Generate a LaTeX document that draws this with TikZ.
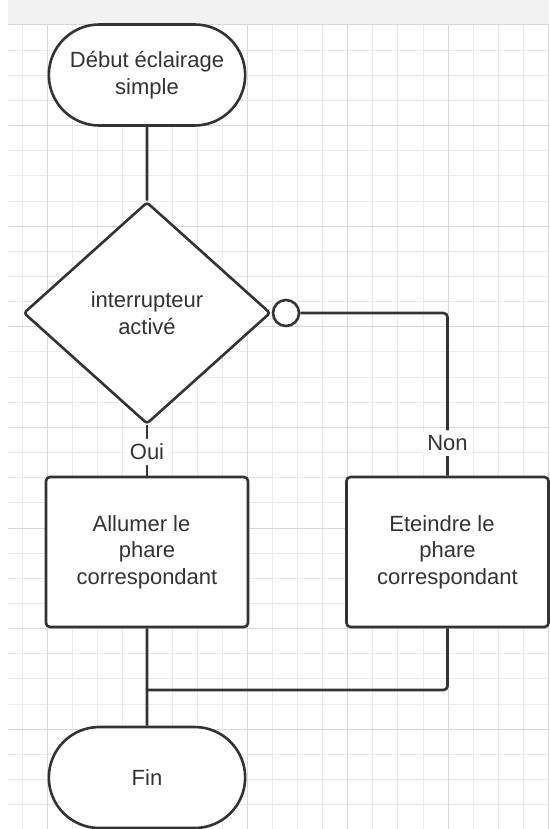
\documentclass[tikz,border=0pt]{standalone}
\usepackage{fontspec}
\setmainfont{Liberation Sans}
\usepackage{tikz}
\usetikzlibrary{shapes.geometric,shapes.misc}
\usepackage{xcolor}
\definecolor{ink}{HTML}{333333}
\definecolor{gridminor}{HTML}{EBEBEB}
\definecolor{gridmajor}{HTML}{D8D8D8}
\definecolor{topbar}{HTML}{F2F2F2}

\begin{document}
\begin{tikzpicture}[
    x=1pt, y=-1pt,
    every node/.style={font=\fontsize{22}{26.5}\selectfont, text=ink},
    terminus/.style={draw=ink, line width=2.6pt, rounded rectangle, fill=white, minimum width=203pt, minimum height=101pt, align=center},
    decision/.style={draw=ink, line width=2.6pt, diamond, fill=white, inner sep=0pt, minimum width=247pt, minimum height=222pt, rounded corners=3pt, align=center},
    action/.style={draw=ink, line width=2.6pt, rectangle, fill=white, rounded corners=4pt, minimum width=202pt, minimum height=150pt, align=center},
    inverse/.style={draw=ink, line width=2.6pt, circle, fill=white, inner sep=0pt, minimum size=26pt},
    lbl/.style={fill=white, inner sep=5pt},
    flow/.style={draw=ink, line width=2.6pt, rounded corners=4pt}
]
\useasboundingbox (0,0) rectangle (549,829);

% Background and grid
\fill[topbar] (8,0) rectangle (549,25);
\foreach \gx in {0,...,21}
    \draw[gridminor, line width=1pt] ({22.2+25.05*\gx},25) -- ({22.2+25.05*\gx},829);
\foreach \gy in {0,...,32}
    \draw[gridminor, line width=1pt] (8,{25+25.15*\gy}) -- (549,{25+25.15*\gy});
\foreach \gx in {0,...,5}
    \draw[gridmajor, line width=1pt] ({47.3+100.2*\gx},25) -- ({47.3+100.2*\gx},829);
\foreach \gy in {0,...,8}
    \draw[gridmajor, line width=1pt] (8,{25+100.6*\gy}) -- (549,{25+100.6*\gy});

% Steps
\node[terminus] (debut) at (147,75) {Début éclairage\\simple};
\node[decision] (test) at (147,313) {interrupteur\\activé};
\node[inverse] (non) at (286,313) {};
\node[action] (allumer) at (147,552) {Allumer le\hspace*{.5em}\\phare\\correspondant};
\node[action] (eteindre) at (447.5,552) {Eteindre le\hspace*{.5em}\\phare\\correspondant};
\node[terminus] (fin) at (147,777.5) {Fin};
\coordinate (join) at (147,690);

% Connections
\draw[flow] (debut) -- (test);
\draw[flow] (test) -- node[lbl, pos=0.53] {Oui} (allumer);
\draw[flow] (non) -| node[lbl, pos=0.9] {Non} (eteindre);
\draw[flow] (allumer) -- (fin);
\draw[flow] (eteindre) |- (join);

\end{tikzpicture}
\end{document}
